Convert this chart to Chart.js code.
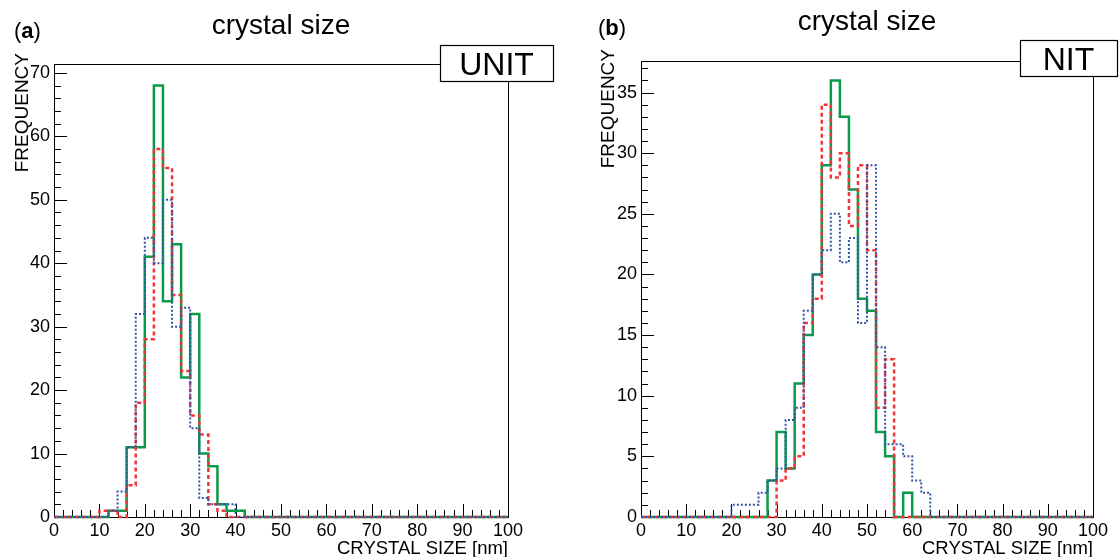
<!DOCTYPE html>
<html lang="en">
<head>
<meta charset="UTF-8">
<title>crystal size</title>
<script src="https://cdn.jsdelivr.net/npm/chart.js"></script>
<style>
  body { margin: 0; background: #fff; overflow: hidden; }
  canvas { position: absolute; top: 0; }
  #chartA { left: 0; }
  #chartB { left: 560px; }
</style>
</head>
<body>
<canvas id="chartA" width="560" height="557"></canvas>
<canvas id="chartB" width="559" height="557"></canvas>

<script>
// bin edges of the histograms [nm]
const binEdges = [0, 2, 4, 6, 8, 10, 12, 14, 16, 18, 20, 22, 24, 26, 28, 30, 32, 34, 36, 38, 40,
                  42, 44, 46, 48, 50, 52, 54, 56, 58, 60, 62, 64, 66, 68, 70, 72, 74, 76, 78, 80,
                  82, 84, 86, 88, 90, 92, 94, 96, 98, 100];

// (a) UNIT - counts per 2 nm bin
const unitGreen = [0, 0, 0, 0, 0, 0, 1, 1, 11, 11, 41, 68, 34, 43, 22, 32, 10, 8, 2, 1, 1,
                   0, 0, 0, 0, 0, 0, 0, 0, 0, 0, 0, 0, 0, 0, 0, 0, 0, 0, 0, 0, 0, 0, 0, 0, 0, 0, 0, 0, 0];
const unitRed   = [0, 0, 0, 0, 0, 1, 1, 0, 5, 18, 28, 58, 55, 35, 23, 16, 13, 2, 1, 0, 0,
                   0, 0, 0, 0, 0, 0, 0, 0, 0, 0, 0, 0, 0, 0, 0, 0, 0, 0, 0, 0, 0, 0, 0, 0, 0, 0, 0, 0, 0];
const unitBlue  = [0, 0, 0, 0, 0, 0, 1, 4, 11, 32, 44, 40, 50, 30, 33, 14, 3, 2, 2, 2, 0,
                   0, 0, 0, 0, 0, 0, 0, 0, 0, 0, 0, 0, 0, 0, 0, 0, 0, 0, 0, 0, 0, 0, 0, 0, 0, 0, 0, 0, 0];

// (b) NIT - counts per 2 nm bin
const nitGreen = [0, 0, 0, 0, 0, 0, 0, 0, 0, 0, 0, 0, 0, 0, 3, 7, 4, 11, 15, 20, 29, 36, 33, 27, 18,
                  17, 7, 5, 0, 2, 0, 0, 0, 0, 0, 0, 0, 0, 0, 0, 0, 0, 0, 0, 0, 0, 0, 0, 0, 0];
const nitRed   = [0, 0, 0, 0, 0, 0, 0, 0, 0, 0, 0, 0, 0, 0, 0, 3, 4, 5, 16, 18, 34, 28, 30, 24, 29,
                  22, 9, 13, 0, 0, 0, 0, 0, 0, 0, 0, 0, 0, 0, 0, 0, 0, 0, 0, 0, 0, 0, 0, 0, 0];
const nitBlue  = [0, 0, 0, 0, 0, 0, 0, 0, 0, 0, 1, 1, 1, 2, 3, 4, 8, 9, 17, 20, 22, 25, 21, 23, 16,
                  29, 14, 6, 6, 5, 3, 2, 0, 0, 0, 0, 0, 0, 0, 0, 0, 0, 0, 0, 0, 0, 0, 0, 0, 0];

// tick labels
const xTicks = [0, 10, 20, 30, 40, 50, 60, 70, 80, 90, 100];
const yTicksUnit = [0, 10, 20, 30, 40, 50, 60, 70];
const yTicksNit = [0, 5, 10, 15, 20, 25, 30, 35];

const FONT = '"Liberation Sans", Arial, Helvetica, sans-serif';
Chart.defaults.font.family = FONT;

// histogram -> step points (left edge of each bin, last point closes at 100)
function toSteps(counts) {
    return binEdges.map((x, i) => ({ x: x, y: i < counts.length ? counts[i] : counts[counts.length - 1] }));
}

function histSet(counts, colour, dash, width, order) {
    return {
        data: toSteps(counts),
        stepped: true,
        borderColor: colour,
        borderWidth: width,
        borderDash: dash,
        borderCapStyle: 'butt',
        borderJoinStyle: 'miter',
        pointRadius: 0,
        fill: false,
        tension: 0,
        clip: false,
        order: order
    };
}

// ROOT-like frame: box, inward ticks, titles, label box
const rootFrame = {
    id: 'rootFrame',
    beforeDatasetsDraw(chart, args, o) {
        const { ctx, chartArea: a, scales: { x, y } } = chart;
        ctx.save();
        ctx.strokeStyle = '#000';
        ctx.lineWidth = 1;
        ctx.strokeRect(a.left + 0.5, a.top + 0.5, a.right - a.left, a.bottom - a.top);
        ctx.beginPath();
        const nx = Math.round((x.max - x.min) / o.xMinor);
        for (let i = 0; i <= nx; i++) {
            const v = x.min + i * o.xMinor;
            const px = Math.round(x.getPixelForValue(v)) + 0.5;
            const len = (i % (o.xMajor / o.xMinor) === 0) ? 13 : 7;
            ctx.moveTo(px, a.bottom);
            ctx.lineTo(px, a.bottom - len);
        }
        const ny = Math.floor(y.max / o.yMinor);
        for (let i = 0; i <= ny; i++) {
            const py = Math.round(y.getPixelForValue(i * o.yMinor)) + 0.5;
            const len = (i % (o.yMajor / o.yMinor) === 0) ? 13 : 7;
            ctx.moveTo(a.left, py);
            ctx.lineTo(a.left + len, py);
        }
        ctx.stroke();
        ctx.restore();
    },
    afterDraw(chart, args, o) {
        const { ctx, chartArea: a } = chart;
        ctx.save();
        ctx.fillStyle = '#000';
        ctx.strokeStyle = '#000';

        // title
        ctx.font = '28px ' + FONT;
        ctx.textAlign = 'center';
        ctx.textBaseline = 'alphabetic';
        ctx.fillText(o.title, (a.left + a.right) / 2, o.titleBaseline);

        // (a) / (b)
        ctx.textAlign = 'left';
        let px = o.tagX;
        ctx.font = '22px ' + FONT;
        ctx.fillText('(', px, o.tagBaseline);
        px += ctx.measureText('(').width;
        ctx.font = 'bold 22px ' + FONT;
        ctx.fillText(o.tag, px, o.tagBaseline);
        px += ctx.measureText(o.tag).width;
        ctx.font = '22px ' + FONT;
        ctx.fillText(')', px, o.tagBaseline);

        // label box
        const b = o.box;
        ctx.fillStyle = '#fff';
        ctx.fillRect(b.x, b.y, b.w, b.h);
        ctx.lineWidth = 1.2;
        ctx.strokeRect(b.x + 0.5, b.y + 0.5, b.w, b.h);
        ctx.fillStyle = '#000';
        ctx.font = '32px ' + FONT;
        ctx.textAlign = 'center';
        ctx.fillText(b.text, b.x + b.w / 2, b.y + b.h / 2 + 11.5);

        // axis titles
        ctx.font = '19px ' + FONT;
        ctx.save();
        ctx.translate(o.yTitleX, o.yTitleTop);
        ctx.rotate(-Math.PI / 2);
        ctx.textAlign = 'right';
        ctx.fillText(o.yTitle, 0, 0);
        ctx.restore();

        ctx.font = '18.5px ' + FONT;
        ctx.textAlign = 'right';
        ctx.fillText(o.xTitle, a.right, o.xTitleBaseline);
        ctx.restore();
    }
};

function makeChart(id, sets, yMax, yTicks, frame, yWidth, rightPad, topPad) {
    return new Chart(document.getElementById(id), {
        type: 'line',
        data: { datasets: sets },
        options: {
            responsive: false,
            animation: false,
            layout: { padding: { left: 0, right: rightPad, top: topPad, bottom: 0 } },
            plugins: {
                legend: { display: false },
                tooltip: { enabled: false },
                rootFrame: frame
            },
            scales: {
                x: {
                    type: 'linear',
                    min: 0,
                    max: 100,
                    afterBuildTicks: s => { s.ticks = xTicks.map(v => ({ value: v })); },
                    afterFit: s => { s.height = 40; },
                    grid: { display: false, drawTicks: false },
                    border: { display: false },
                    ticks: { color: '#000', font: { size: 18 }, padding: 3, maxRotation: 0, autoSkip: false }
                },
                y: {
                    type: 'linear',
                    min: 0,
                    max: yMax,
                    afterBuildTicks: s => { s.ticks = yTicks.map(v => ({ value: v })); },
                    afterFit: s => { s.width = yWidth; },
                    grid: { display: false, drawTicks: false },
                    border: { display: false },
                    ticks: { color: '#000', font: { size: 18 }, padding: 4 }
                }
            }
        },
        plugins: [rootFrame]
    });
}

const GREEN = '#0b9a4c';
const RED = '#ef3636';
const BLUE = '#3553a6';

makeChart('chartA', [
    histSet(unitBlue, BLUE, [2, 2], 2, 1),
    histSet(unitRed, RED, [4, 3], 2.5, 2),
    histSet(unitGreen, GREEN, [], 2.5, 3)
], 71.4, yTicksUnit, {
    title: 'crystal size', titleBaseline: 34,
    tag: 'a', tagX: 14, tagBaseline: 38,
    box: { text: 'UNIT', x: 440, y: 45, w: 113, h: 36 },
    yTitle: 'FREQUENCY', yTitleX: 28, yTitleTop: 53,
    xTitle: 'CRYSTAL SIZE [nm]', xTitleBaseline: 554,
    xMajor: 10, xMinor: 2, yMajor: 10, yMinor: 2
}, 54, 52, 64);

makeChart('chartB', [
    histSet(nitBlue, BLUE, [2, 2], 2, 1),
    histSet(nitRed, RED, [4, 3], 2.5, 2),
    histSet(nitGreen, GREEN, [], 2.5, 3)
], 37.6, yTicksNit, {
    title: 'crystal size', titleBaseline: 30,
    tag: 'b', tagX: 38, tagBaseline: 35,
    box: { text: 'NIT', x: 460, y: 40, w: 97, h: 36 },
    yTitle: 'FREQUENCY', yTitleX: 54, yTitleTop: 49,
    xTitle: 'CRYSTAL SIZE [nm]', xTitleBaseline: 554,
    xMajor: 10, xMinor: 2, yMajor: 5, yMinor: 1
}, 81, 26, 61);
</script>
</body>
</html>
